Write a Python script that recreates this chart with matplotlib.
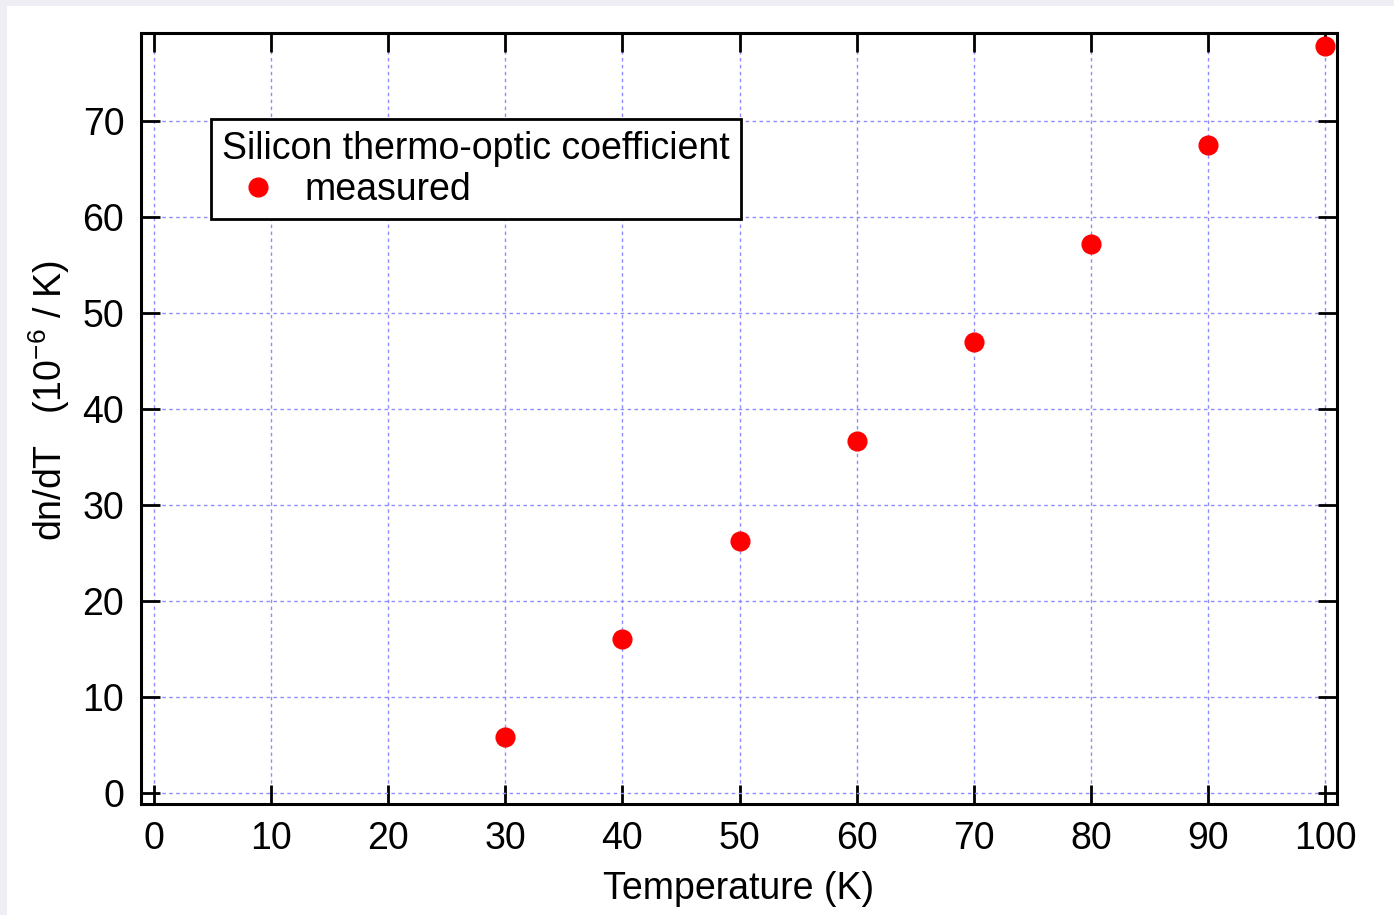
#!/usr/bin/env python

import matplotlib
matplotlib.use('Agg')
import matplotlib.pyplot as plt
from matplotlib.patches import Rectangle

temperature = [30, 40, 50, 60, 70, 80, 90, 100]
dndt = [5.8, 16.0, 26.3, 36.7, 47.0, 57.2, 67.5, 77.8]
xticks = [0, 10, 20, 30, 40, 50, 60, 70, 80, 90, 100]
yticks = [0, 10, 20, 30, 40, 50, 60, 70]

plt.rcParams['font.family'] = ['Liberation Sans', 'DejaVu Sans']
plt.rcParams['mathtext.fontset'] = 'custom'
plt.rcParams['mathtext.rm'] = 'Liberation Sans'
plt.rcParams['axes.unicode_minus'] = False

fig = plt.figure(figsize=(13.94, 9.15), dpi=100)
fig.patches.append(Rectangle((0, 1 - 6 / 915), 1, 6 / 915, transform=fig.transFigure,
                             facecolor='#eeeef4', edgecolor='none'))
fig.patches.append(Rectangle((0, 0), 7 / 1394, 1, transform=fig.transFigure,
                             facecolor='#eeeef4', edgecolor='none'))

ax = fig.add_axes([141 / 1394, 1 - 804 / 915, 1196 / 1394, 771 / 915])

ax.plot(temperature, dndt, 'o', color='red', markersize=13.5, label='measured', zorder=3)

ax.set_xlim(-1.1, 101.0)
ax.set_ylim(-1.15, 79.2)
ax.set_xticks(xticks)
ax.set_yticks(yticks)

ax.grid(True, color='#8c8cff', linestyle=(0, (2.5, 2.5)), linewidth=1.0)
ax.set_axisbelow(True)

for s in ax.spines.values():
    s.set_linewidth(2.2)
ax.tick_params(direction='in', length=14, width=2.0, top=True, right=True,
               labelsize=27, pad=12)

ax.set_xlabel('Temperature (K)', fontsize=27, labelpad=10)
ax.set_ylabel(r'dn/dT   (10$\mathregular{^{-6}}$ / K)', fontsize=27)
ax.yaxis.set_label_coords(-0.058, 0.524)

leg = ax.legend(title='Silicon thermo-optic coefficient', loc='upper left',
                bbox_to_anchor=(0.0585, 0.888), fontsize=27, title_fontsize=27,
                fancybox=False, framealpha=1, edgecolor='black', alignment='left',
                borderpad=0.3, labelspacing=0.15, handletextpad=0.28,
                handlelength=1.92, markerscale=1.0, borderaxespad=0)
leg.get_frame().set_linewidth(2.0)

fig.savefig('out.png', dpi=100)
